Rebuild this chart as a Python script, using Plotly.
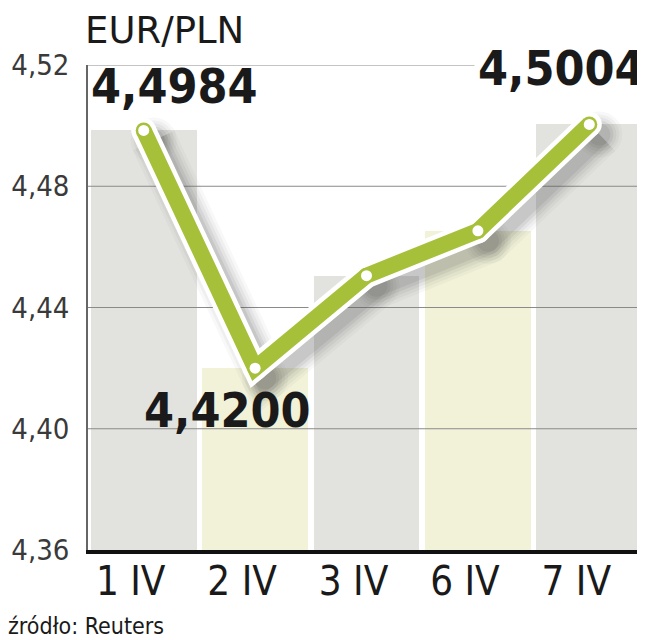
import plotly.graph_objects as go

categories = ["1 IV", "2 IV", "3 IV", "6 IV", "7 IV"]
values = [4.4984, 4.4200, 4.4505, 4.4653, 4.5004]
bar_colors = ["#e2e3de", "#f1f2d8", "#e2e3de", "#f1f2d8", "#e2e3de"]
y_ticks = [4.36, 4.40, 4.44, 4.48, 4.52]
y_tick_labels = ["4,36", "4,40", "4,44", "4,48", "4,52"]
labelled = {0: "4,4984", 1: "4,4200", 4: "4,5004"}
label_shift = {0: (31, 44), 1: (-28, -42), 4: (-28, 56)}

XR = [-0.5, 4.5]
YR = [4.36, 4.52]
PLOT_W = 645 - 80 - 8
PLOT_H = 640 - 57 - 98
sdx = 10 / (PLOT_W / 5)
sdy = 10 / PLOT_H * (YR[1] - YR[0])

COND = "DejaVu Sans Condensed, DejaVu Sans, sans-serif"

xs = list(range(len(categories)))
fig = go.Figure()

fig.add_trace(go.Bar(x=xs, y=values, marker=dict(color=bar_colors, line=dict(width=0)),
                     width=0.95, hoverinfo="skip", showlegend=False))

for t in y_ticks[1:]:
    fig.add_trace(go.Scatter(x=XR, y=[t, t], mode="lines",
                             line=dict(color="#8a8a8a", width=1.2),
                             hoverinfo="skip", showlegend=False))

# soft shadow on an offset overlay axis pair
for w, op in [(46, 0.04), (40, 0.05), (34, 0.07), (28, 0.09), (22, 0.11)]:
    fig.add_trace(go.Scatter(x=xs, y=values, mode="lines+markers", xaxis="x2", yaxis="y2",
                             line=dict(color=f"rgba(80,80,80,{op})", width=w),
                             marker=dict(color=f"rgba(80,80,80,{op})", size=w, line=dict(width=0)),
                             hoverinfo="skip", showlegend=False))

# white outline, green line, white dots
fig.add_trace(go.Scatter(x=xs, y=values, mode="lines+markers", xaxis="x3", yaxis="y3",
                         line=dict(color="white", width=25),
                         marker=dict(color="white", size=25, line=dict(width=0)),
                         hoverinfo="skip", showlegend=False))
fig.add_trace(go.Scatter(x=xs, y=values, mode="lines+markers", xaxis="x3", yaxis="y3",
                         line=dict(color="#a6c03a", width=16),
                         marker=dict(color="#a6c03a", size=16, line=dict(width=0)),
                         hoverinfo="skip", showlegend=False))
fig.add_trace(go.Scatter(x=xs, y=values, mode="markers", xaxis="x3", yaxis="y3",
                         marker=dict(color="white", size=11, line=dict(width=0)),
                         hoverinfo="skip", showlegend=False))

for i, txt in labelled.items():
    dx, dy = label_shift[i]
    fig.add_annotation(x=xs[i], y=values[i], xref="x3", yref="y3", text=txt, showarrow=False,
                       xshift=dx, yshift=dy, bgcolor="white" if i == 4 else None,
                       borderpad=3,
                       font=dict(family=COND, size=48, color="#1a1a1a", weight="bold"))

fig.add_annotation(xref="paper", yref="paper", x=-4 / PLOT_W, y=1 + 35 / PLOT_H, xanchor="left",
                   yanchor="middle", text="EUR/PLN", showarrow=False, borderpad=0,
                   font=dict(family="DejaVu Sans, sans-serif", size=37, color="#1a1a1a"))
fig.add_annotation(xref="paper", yref="paper", x=-82 / PLOT_W, y=-76 / PLOT_H, xanchor="left",
                   yanchor="middle", text="źródło: Reuters", showarrow=False,
                   font=dict(family=COND, size=23, color="#1a1a1a"))

hidden = dict(visible=False, showgrid=False, zeroline=False, fixedrange=True)
fig.update_layout(
    width=645, height=640,
    margin=dict(l=80, r=8, t=57, b=98, autoexpand=False),
    paper_bgcolor="white", plot_bgcolor="white",
    bargap=0,
    xaxis=dict(range=XR, tickvals=xs, ticktext=categories, automargin=False,
               showgrid=False, zeroline=False, showline=True,
               linecolor="#111111", linewidth=4, ticks="",
               ticklabelshift=-13, ticklabelstandoff=-7,
               tickfont=dict(family=COND, size=40, color="#1a1a1a")),
    yaxis=dict(range=YR, tickvals=y_ticks, ticktext=y_tick_labels, automargin=False,
               showgrid=False, zeroline=False, showline=True,
               linecolor="#666666", linewidth=1.5, ticks="",
               ticklabelstandoff=11,
               tickfont=dict(family=COND, size=29, color="#3a3a3a")),
    xaxis2=dict(overlaying="x", range=[XR[0] - sdx, XR[1] - sdx], **hidden),
    yaxis2=dict(overlaying="y", range=[YR[0] + sdy, YR[1] + sdy], **hidden),
    xaxis3=dict(overlaying="x", range=XR, **hidden),
    yaxis3=dict(overlaying="y", range=YR, **hidden),
)

fig.write_html("out.html")
